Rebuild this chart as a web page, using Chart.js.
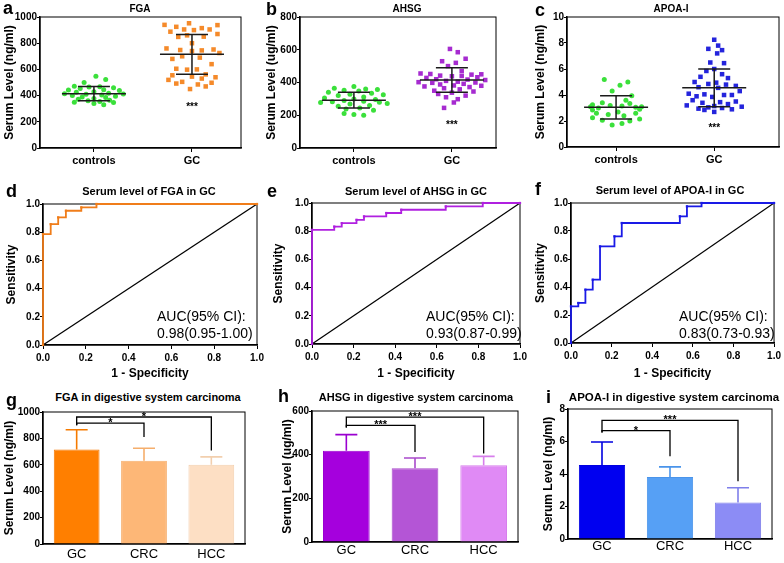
<!DOCTYPE html>
<html>
<head>
<meta charset="utf-8">
<script src="https://cdn.jsdelivr.net/npm/chart.js@4.4.1/dist/chart.umd.min.js"></script>
<style>
  body { margin: 0; background: #fff; }
  #fig { position: relative; width: 784px; height: 563px; overflow: hidden; font-family: "Liberation Sans", Arial, sans-serif; color: #000; }
  #fig canvas { position: absolute; }
  .ttl { position: absolute; font-weight: bold; white-space: nowrap; transform: translate(-50%, -50%); z-index: 2; }
  .let { position: absolute; font-weight: bold; font-size: 18px; line-height: 18px; transform: translateY(-50%); z-index: 2; }
  .auc { position: absolute; font-size: 14px; line-height: 17px; white-space: nowrap; z-index: 2; }
</style>
</head>
<body>
<div id="fig"></div>
<script>
'use strict';

// ---- 상단: 산점도 (controls vs GC) ----
const groupLabels = ['controls', 'GC'];

const fgaCtrlVal = [548, 522, 500, 472, 468, 465, 460, 455, 445, 442, 438, 430, 425, 418, 415, 412, 410, 405, 400, 395, 390, 385, 378, 372, 365, 360, 355, 350, 348, 340, 330];
const fgaCtrlOff = [0.02, 0.12, -0.1, -0.2, 0.06, -0.05, 0.2, -0.14, 0.1, -0.26, 0.26, 0.0, -0.18, 0.15, -0.3, 0.3, -0.08, 0.08, -0.22, 0.22, -0.12, 0.12, 0.0, -0.16, 0.16, -0.06, 0.06, -0.2, 0.2, 0.0, 0.1];
const fgaGcVal = [952, 940, 938, 925, 915, 905, 905, 900, 888, 870, 860, 850, 848, 800, 760, 752, 748, 745, 740, 725, 700, 690, 680, 640, 605, 600, 598, 562, 555, 545, 540, 530, 520, 505, 498, 492, 485, 470, 450];
const fgaGcOff = [-0.03, -0.28, 0.26, -0.16, 0.1, -0.08, 0.18, 0.02, -0.22, 0.26, -0.05, 0.12, -0.14, 0.0, -0.26, 0.22, -0.12, 0.1, 0.0, 0.28, -0.1, 0.08, -0.2, 0.2, -0.16, 0.05, -0.05, 0.14, -0.2, 0.0, 0.24, 0.1, -0.24, -0.1, 0.2, -0.16, 0.06, 0.14, -0.02];
const fgaMean = [415, 715];
const fgaSd = [55, 152];

const ahsgCtrlVal = [375, 365, 360, 358, 352, 348, 340, 335, 328, 325, 320, 312, 305, 300, 296, 290, 285, 282, 280, 278, 272, 268, 260, 255, 245, 238, 230, 210, 205, 200];
const ahsgCtrlOff = [0, -0.2, 0.12, 0.24, -0.1, 0.05, -0.26, 0.18, -0.04, 0.3, -0.16, 0.1, -0.3, 0.0, 0.22, -0.1, 0.1, -0.22, 0.26, -0.34, 0.34, -0.04, 0.16, -0.16, 0.06, -0.08, 0.2, -0.1, 0.0, 0.1];
const ahsgGcVal = [605, 585, 545, 530, 520, 500, 470, 455, 452, 450, 448, 442, 440, 438, 432, 428, 420, 418, 415, 410, 405, 402, 400, 398, 392, 388, 382, 380, 376, 372, 365, 358, 350, 345, 338, 330, 320, 310, 298, 278, 245];
const ahsgGcOff = [-0.02, 0.06, 0.14, -0.1, 0.04, -0.04, 0.1, -0.32, -0.22, 0.3, 0.2, -0.12, 0.1, 0.0, 0.26, -0.26, -0.16, 0.16, 0.34, -0.06, 0.06, -0.34, 0.24, -0.2, 0.12, -0.12, 0.02, 0.3, -0.28, 0.18, -0.08, 0.08, -0.18, 0.22, 0.0, -0.14, 0.14, -0.06, 0.06, 0.02, -0.08];
const ahsgMean = [292, 415];
const ahsgSd = [48, 75];

const apoaCtrlVal = [5.2, 5.0, 4.75, 4.3, 3.95, 3.6, 3.4, 3.35, 3.25, 3.2, 3.15, 3.1, 3.1, 3.05, 3.0, 2.9, 2.85, 2.7, 2.6, 2.6, 2.5, 2.4, 2.25, 2.15, 2.05, 2.0, 1.8, 1.7];
const apoaCtrlOff = [-0.12, 0.12, 0.04, -0.04, 0.16, 0.1, -0.14, 0.14, -0.24, -0.06, 0.06, -0.26, 0.26, 0.2, -0.18, 0.24, -0.24, 0.02, -0.2, 0.2, -0.08, 0.08, -0.24, 0.24, -0.14, 0.14, 0.06, -0.04];
const apoaGcVal = [8.25, 7.8, 7.55, 7.45, 7.2, 6.5, 6.45, 6.0, 5.85, 5.6, 5.4, 5.3, 5.0, 4.95, 4.85, 4.8, 4.7, 4.6, 4.55, 4.3, 4.1, 4.05, 4.0, 4.0, 3.9, 3.85, 3.6, 3.5, 3.45, 3.4, 3.3, 3.2, 3.15, 3.1, 3.05, 3.0, 2.95, 2.9, 2.85, 2.7];
const apoaGcOff = [0.0, 0.04, -0.06, 0.08, 0.03, -0.04, 0.1, 0.0, -0.08, 0.08, -0.14, 0.14, -0.2, 0.02, -0.06, 0.12, 0.22, -0.16, 0.04, 0.26, -0.26, -0.1, 0.1, 0.18, -0.18, -0.02, -0.22, 0.22, 0.06, -0.12, 0.14, -0.28, 0.0, 0.28, -0.06, 0.08, -0.16, 0.18, -0.1, 0.0];
const apoaMean = [3.05, 4.55];
const apoaSd = [0.9, 1.45];

// ---- 중단: ROC 곡선 (계단 꼭짓점) ----
const fgaRocFpr = [0, 0, 0.036, 0.071, 0.107, 0.179, 0.25, 1.0];
const fgaRocTpr = [0, 0.786, 0.857, 0.905, 0.952, 0.976, 1.0, 1.0];
const ahsgRocFpr = [0, 0, 0.107, 0.143, 0.214, 0.25, 0.357, 0.429, 0.643, 0.821, 1.0];
const ahsgRocTpr = [0, 0.81, 0.833, 0.857, 0.881, 0.905, 0.929, 0.952, 0.976, 1.0, 1.0];
const apoaRocFpr = [0, 0, 0.036, 0.071, 0.107, 0.143, 0.214, 0.25, 0.536, 0.571, 0.643, 1.0];
const apoaRocTpr = [0, 0.262, 0.286, 0.381, 0.452, 0.69, 0.762, 0.857, 0.905, 0.976, 1.0, 1.0];
const rocDiagonal = [0, 1];
const aucLabels = ['0.98(0.95-1.00)', '0.93(0.87-0.99)', '0.83(0.73-0.93)'];

// ---- 하단: 막대 (mean + SD) ----
const barCats = ['GC', 'CRC', 'HCC'];
const fgaBarMean = [715, 630, 600];
const fgaBarSd = [150, 95, 60];
const ahsgBarMean = [418, 338, 352];
const ahsgBarSd = [74, 47, 40];
const apoaBarMean = [4.55, 3.82, 2.25];
const apoaBarSd = [1.42, 0.62, 0.9];

// 유의성 괄호: [from, to, 가로선 값, 왼쪽 끝, 오른쪽 끝, 표시]
const fgaBrackets = [[0, 1, 916, 900, 810, '*'], [0, 2, 962, 900, 709, '*']];
const ahsgBrackets = [[0, 1, 534, 525, 412, '***'], [0, 2, 572, 525, 405, '***']];
const apoaBrackets = [[0, 1, 6.67, 6.55, 5.1, '*'], [0, 2, 7.3, 6.55, 3.55, '***']];

Chart.defaults.font.family = '"Liberation Sans", Arial, sans-serif';
Chart.defaults.color = '#000';

const fig = document.getElementById('fig');

// 플롯 영역 테두리
const framePlugin = {
  id: 'frame',
  beforeDatasetsDraw(chart) {
    const { ctx, chartArea: { left, top, right, bottom } } = chart;
    ctx.save();
    ctx.strokeStyle = '#000';
    ctx.lineWidth = 1;
    ctx.strokeRect(left, top, right - left, bottom - top);
    ctx.restore();
  },
};

// 산점도 평균선 + SD 막대 + 별표
const dotStatsPlugin = {
  id: 'dotStats',
  afterDatasetsDraw(chart, args, opts) {
    const { ctx, scales: { x, y } } = chart;
    ctx.save();
    ctx.strokeStyle = '#1a1a1a';
    ctx.lineWidth = 1.5;
    opts.mean.forEach((m, i) => {
      const cx = x.getPixelForValue(i + 1);
      const ym = y.getPixelForValue(m);
      const yHi = y.getPixelForValue(m + opts.sd[i]);
      const yLo = y.getPixelForValue(m - opts.sd[i]);
      ctx.beginPath();
      ctx.moveTo(cx - 32, ym); ctx.lineTo(cx + 32, ym);
      ctx.moveTo(cx, yHi); ctx.lineTo(cx, yLo);
      ctx.moveTo(cx - 16, yHi); ctx.lineTo(cx + 16, yHi);
      ctx.moveTo(cx - 16, yLo); ctx.lineTo(cx + 16, yLo);
      ctx.stroke();
    });
    ctx.fillStyle = '#000';
    ctx.font = 'bold 10px "Liberation Sans", Arial, sans-serif';
    ctx.textAlign = 'center';
    ctx.textBaseline = 'alphabetic';
    ctx.fillText('***', x.getPixelForValue(2), y.getPixelForValue(opts.starAt) + 6);
    ctx.restore();
  },
};

// 막대 위쪽 SD + 유의성 괄호
const barMarksPlugin = {
  id: 'barMarks',
  afterDatasetsDraw(chart, args, opts) {
    const { ctx, scales: { x, y } } = chart;
    const meta = chart.getDatasetMeta(0);
    const ds = chart.data.datasets[0];
    ctx.save();
    ctx.lineWidth = 1.6;
    ds.data.forEach((v, i) => {
      const bx = meta.data[i].x;
      const y0 = y.getPixelForValue(v);
      const y1 = y.getPixelForValue(v + opts.sd[i]);
      ctx.strokeStyle = opts.errColors[i];
      ctx.beginPath();
      ctx.moveTo(bx, y0); ctx.lineTo(bx, y1);
      ctx.moveTo(bx - 11, y1); ctx.lineTo(bx + 11, y1);
      ctx.stroke();
    });
    ctx.strokeStyle = '#000';
    ctx.fillStyle = '#000';
    ctx.lineWidth = 1.3;
    ctx.font = 'bold 11px "Liberation Sans", Arial, sans-serif';
    ctx.textAlign = 'center';
    ctx.textBaseline = 'alphabetic';
    opts.brackets.forEach(([from, to, yv, yl, yr, label]) => {
      const xa = x.getPixelForValue(from);
      const xb = x.getPixelForValue(to);
      const yt = y.getPixelForValue(yv);
      ctx.beginPath();
      ctx.moveTo(xa, y.getPixelForValue(yl));
      ctx.lineTo(xa, yt);
      ctx.lineTo(xb, yt);
      ctx.lineTo(xb, y.getPixelForValue(yr));
      ctx.stroke();
      ctx.fillText(label, (xa + xb) / 2, yt + 3);
    });
    ctx.restore();
  },
};

function addCanvas(p) {
  const [L, T, R, B] = p.box;
  const c = document.createElement('canvas');
  const w = R - L + p.yW + p.padRight;
  const h = B - T + p.padTop + p.xH;
  c.width = w;
  c.height = h;
  c.style.left = (L - p.yW) + 'px';
  c.style.top = (T - p.padTop) + 'px';
  c.style.width = w + 'px';
  c.style.height = h + 'px';
  fig.appendChild(c);
  return c;
}

function yAxis(p, min, max, step, title, fmt) {
  return {
    min, max,
    afterFit: s => { s.width = p.yW; },
    ticks: { stepSize: step, autoSkip: false, font: { size: 10, weight: 'bold' }, color: '#000', padding: 0, callback: fmt },
    grid: { drawOnChartArea: false, tickLength: 3, color: '#000' },
    border: { color: '#000', width: 1.5 },
    title: { display: true, text: title, font: { size: 12, weight: 'bold' }, color: '#000', padding: { top: p.titlePad, bottom: 0 } },
  };
}

function baseOptions(p) {
  return {
    responsive: false,
    animation: false,
    layout: { padding: { left: 0, top: p.padTop, right: p.padRight, bottom: 0 } },
    plugins: { legend: { display: false }, tooltip: { enabled: false } },
  };
}

function pts(off, val, center) {
  return val.map((v, i) => ({ x: center + off[i], y: v }));
}

function makeDotPanel(p, ctrl, gc, mean, sd, starAt, yMax, yStep, yTitle, gcColor, xRange) {
  const opts = baseOptions(p);
  opts.scales = {
    x: {
      type: 'linear', min: xRange[0], max: xRange[1],
      afterFit: s => { s.height = p.xH; },
      afterBuildTicks: s => { s.ticks = [{ value: 1 }, { value: 2 }]; },
      ticks: { autoSkip: false, maxRotation: 0, font: { size: 11, weight: 'bold' }, color: '#000', padding: 2,
               callback: (v, i) => groupLabels[i] },
      grid: { drawOnChartArea: false, tickLength: 4, color: '#000' },
      border: { color: '#000', width: 1.5 },
    },
    y: yAxis(p, 0, yMax, yStep, yTitle, v => String(v)),
  };
  opts.plugins.dotStats = { mean, sd, starAt };
  return new Chart(addCanvas(p), {
    type: 'scatter',
    plugins: [framePlugin, dotStatsPlugin],
    data: {
      datasets: [
        { data: pts(ctrl[0], ctrl[1], 1), pointStyle: 'circle', pointRadius: 2.5, backgroundColor: '#3BE03B', borderWidth: 0, clip: false },
        { data: pts(gc[0], gc[1], 2), pointStyle: 'rect', pointRadius: 3.2, backgroundColor: gcColor, borderWidth: 0, clip: false },
      ],
    },
    options: opts,
  });
}

function makeRocPanel(p, fpr, tpr, color) {
  const opts = baseOptions(p);
  const fmt = v => Number(v).toFixed(1);
  opts.scales = {
    x: {
      type: 'linear', min: 0, max: 1,
      afterFit: s => { s.height = p.xH; },
      ticks: { stepSize: 0.2, autoSkip: false, maxRotation: 0, font: { size: 10, weight: 'bold' }, color: '#000', padding: 3, callback: fmt },
      grid: { drawOnChartArea: false, tickLength: 4, color: '#000' },
      border: { color: '#000', width: 1.5 },
      title: { display: true, text: '1 - Specificity', font: { size: 12, weight: 'bold' }, color: '#000', padding: { top: 0, bottom: 2 } },
    },
    y: yAxis(p, 0, 1, 0.2, 'Sensitivity', fmt),
  };
  return new Chart(addCanvas(p), {
    type: 'scatter',
    plugins: [framePlugin],
    data: {
      datasets: [
        { data: fpr.map((x, i) => ({ x, y: tpr[i] })), showLine: true, stepped: 'before', borderColor: color, borderWidth: 1.8,
          pointStyle: 'rect', pointRadius: 1.6, backgroundColor: color, pointBorderWidth: 0, clip: 4 },
        { data: rocDiagonal.map(v => ({ x: v, y: v })), showLine: true, borderColor: '#000', borderWidth: 1.2, pointRadius: 0 },
      ],
    },
    options: opts,
  });
}

function makeBarPanel(p, mean, sd, brackets, yMax, yStep, yTitle, colors, errColors) {
  const opts = baseOptions(p);
  opts.scales = {
    x: {
      afterFit: s => { s.height = p.xH; },
      ticks: { font: { size: 13 }, color: '#000', padding: p.labelPad },
      grid: { display: false, drawTicks: false },
      border: { color: '#000', width: 1.5 },
    },
    y: yAxis(p, 0, yMax, yStep, yTitle, v => String(v)),
  };
  opts.plugins.barMarks = { sd, brackets, errColors };
  return new Chart(addCanvas(p), {
    type: 'bar',
    plugins: [framePlugin, barMarksPlugin],
    data: {
      labels: barCats,
      datasets: [{ data: mean, backgroundColor: colors, borderColor: errColors, borderWidth: 1,
                   categoryPercentage: 1, barPercentage: 0.68 }],
    },
    options: opts,
  });
}

// 패널 배치 (플롯 영역 L, T, R, B)
const P = {
  a: { box: [40, 17, 241, 148], yW: 40, xH: 22, padTop: 8, padRight: 6, titlePad: 2 },
  b: { box: [300, 17, 496, 148], yW: 40, xH: 22, padTop: 8, padRight: 6, titlePad: 4 },
  c: { box: [567, 17, 779, 147], yW: 45, xH: 22, padTop: 8, padRight: 5, titlePad: 11 },
  d: { box: [43, 204, 257, 345], yW: 43, xH: 38, padTop: 8, padRight: 10, titlePad: 4 },
  e: { box: [312, 203, 520, 344], yW: 52, xH: 39, padTop: 8, padRight: 10, titlePad: 11 },
  f: { box: [571, 203, 776, 343], yW: 49, xH: 40, padTop: 8, padRight: 8, titlePad: 11 },
  g: { box: [43, 412, 245, 544], yW: 43, xH: 19, padTop: 8, padRight: 6, titlePad: 2, labelPad: 3 },
  h: { box: [312, 411, 518, 542], yW: 52, xH: 21, padTop: 8, padRight: 6, titlePad: 20, labelPad: 1 },
  i: { box: [568, 409, 772, 539], yW: 46, xH: 24, padTop: 8, padRight: 8, titlePad: 19, labelPad: 0 },
};

makeDotPanel(P.a, [fgaCtrlOff, fgaCtrlVal], [fgaGcOff, fgaGcVal], fgaMean, fgaSd, 336, 1000, 200, 'Serum Level (ng/ml)', '#F58A2A', [0.45, 2.5]);
makeDotPanel(P.b, [ahsgCtrlOff, ahsgCtrlVal], [ahsgGcOff, ahsgGcVal], ahsgMean, ahsgSd, 161, 800, 200, 'Serum Level (ug/ml)', '#A62BD0', [0.45, 2.45]);
makeDotPanel(P.c, [apoaCtrlOff, apoaCtrlVal], [apoaGcOff, apoaGcVal], apoaMean, apoaSd, 1.7, 10, 2, 'Serum Level (ng/ml)', '#2424DC', [0.5, 2.66]);

makeRocPanel(P.d, fgaRocFpr, fgaRocTpr, '#F07D1A');
makeRocPanel(P.e, ahsgRocFpr, ahsgRocTpr, '#B020E0');
makeRocPanel(P.f, apoaRocFpr, apoaRocTpr, '#1A1AE6');

makeBarPanel(P.g, fgaBarMean, fgaBarSd, fgaBrackets, 1000, 200, 'Serum Level (ng/ml)',
  ['#FF7F00', '#FDB777', '#FDDFC4'], ['#F57A00', '#F5AE6C', '#F2CFAE']);
makeBarPanel(P.h, ahsgBarMean, ahsgBarSd, ahsgBrackets, 600, 200, 'Serum Level (ug/ml)',
  ['#A500DD', '#B455D6', '#E08AF5'], ['#9A00D0', '#A94ACB', '#D77EEC']);
makeBarPanel(P.i, apoaBarMean, apoaBarSd, apoaBrackets, 8, 2, 'Serum Level (ng/ml)',
  ['#0000F0', '#56A0F5', '#8C8CF5'], ['#0000E0', '#4A94EA', '#7F7FEA']);

// 제목, 패널 문자, AUC 텍스트
const titles = [
  ['FGA', 140, 8, 10], ['AHSG', 407, 8, 10], ['APOA-I', 671, 8, 10],
  ['Serum level of FGA in GC', 149, 191, 11], ['Serum level of AHSG in GC', 416, 191, 11], ['Serum level of APOA-I in GC', 670, 190, 11],
  ['FGA in digestive system carcinoma', 148, 397, 11], ['AHSG in digestive system carcinoma', 416, 397, 11], ['APOA-I in digestive system carcinoma', 674, 397, 11.5],
];
titles.forEach(([t, x, y, s]) => {
  const d = document.createElement('div');
  d.className = 'ttl';
  d.textContent = t;
  d.style.left = x + 'px';
  d.style.top = y + 'px';
  d.style.fontSize = s + 'px';
  fig.appendChild(d);
});

const letters = [['a', 3, 8], ['b', 266, 9], ['c', 535, 10], ['d', 6, 191], ['e', 267, 191], ['f', 535, 189], ['g', 6, 400], ['h', 278, 396], ['i', 546, 397]];
letters.forEach(([t, x, y]) => {
  const d = document.createElement('div');
  d.className = 'let';
  d.textContent = t;
  d.style.left = x + 'px';
  d.style.top = y + 'px';
  fig.appendChild(d);
});

[[157, 308], [426, 308], [679, 308]].forEach(([x, y], i) => {
  const d = document.createElement('div');
  d.className = 'auc';
  d.innerHTML = 'AUC(95% CI):<br>' + aucLabels[i];
  d.style.left = x + 'px';
  d.style.top = y + 'px';
  fig.appendChild(d);
});
</script>
</body>
</html>
